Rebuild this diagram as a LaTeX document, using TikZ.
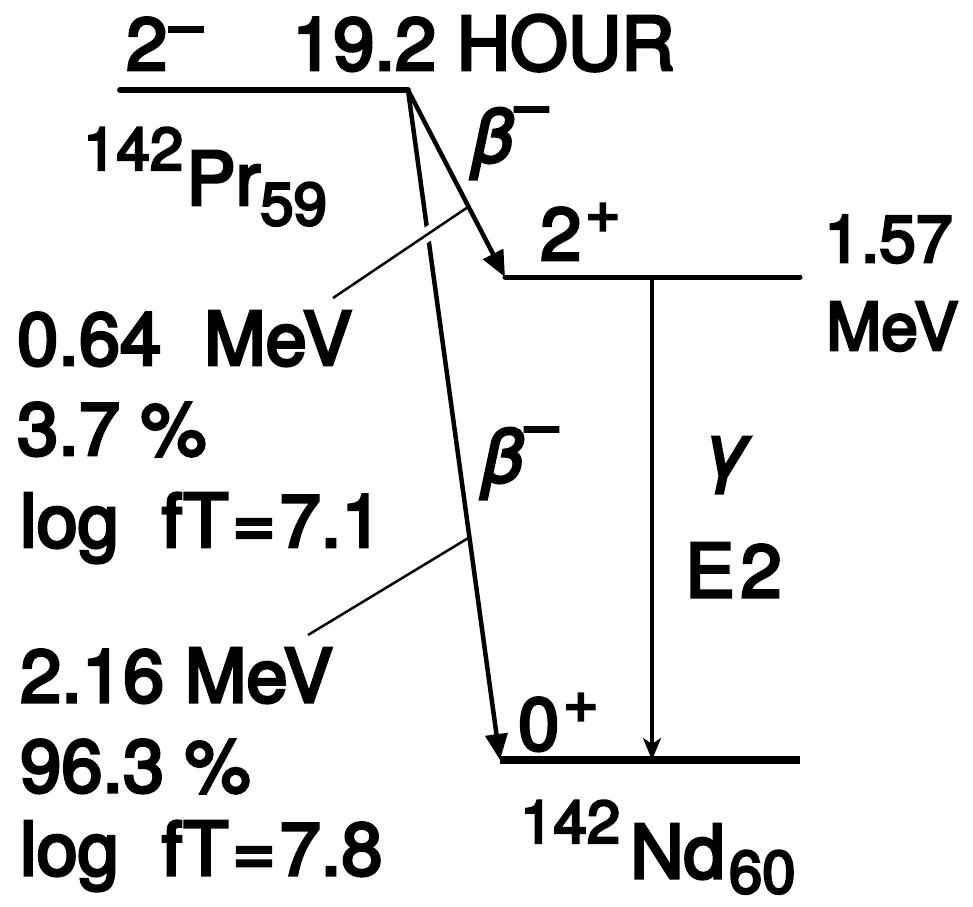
\documentclass[tikz,border=0pt]{standalone}
\usepackage{fontspec}
\setmainfont{TeX Gyre Heros}[FakeBold=4]
\usetikzlibrary{arrows.meta}
\newcommand{\bigf}{\fontsize{74}{80}\selectfont}
\newcommand{\rgtf}{\fontsize{66}{74}\selectfont}
\newcommand{\midf}{\fontsize{60}{66}\selectfont}
\begin{document}
\begin{tikzpicture}[x=1pt,y=-1pt,
  lbl/.style={anchor=base west,inner sep=0pt,font=\bigf},
  lvl/.style={line width=6pt},
  betaarrow/.style={line width=4.5pt,-{Triangle[length=26pt,width=22pt]}},
  gammaarrow/.style={line width=3.5pt,-{Stealth[length=22pt,width=18pt,inset=6pt]}},
  leader/.style={line width=2.5pt}]
\useasboundingbox (0,0) rectangle (973,906);

% level coordinates
\coordinate (PrL) at (120,90);
\coordinate (PrR) at (408,90);
\coordinate (MidL) at (505,277);
\coordinate (MidR) at (800,277);
\coordinate (GsL) at (500,760);
\coordinate (GsR) at (800,760);
\coordinate (GamTop) at (652,277);
\coordinate (GamBot) at (652,760);
\coordinate (LeadA) at (333,298);
\coordinate (LeadAend) at (468,207);
\coordinate (LeadB) at (308,635);
\coordinate (LeadBend) at (470,537);

% levels
\draw[lvl,line width=6pt,line cap=round] (PrL) -- (PrR);
\draw[lvl,line width=5pt,line cap=round] (MidL) -- (MidR);
\draw[lvl,line width=8pt] (GsL) -- (GsR);

% transitions
\draw[betaarrow] (PrR) -- (GsL);
\draw[betaarrow] (PrR) -- (MidL);
\draw[gammaarrow] (GamTop) -- (GamBot);

% leader lines (with a break in the long arrow)
\draw[white,line width=14pt,shorten <=100pt,shorten >=35pt] (LeadA) -- (LeadAend);
\draw[leader] (LeadA) -- (LeadAend);
\draw[leader] (LeadB) -- (LeadBend);

% labels
\node[lbl] (spinPr) at (126,70) {2\kern2pt\raisebox{24pt}[0pt][0pt]{\midf –}};
\node[lbl] (halflife) at (292,70) {19.2 HOUR};
\node[lbl] (prname) at (83,205) {\raisebox{35pt}{\midf 142}\kern3pt Pr\raisebox{-20pt}{\midf 59}};
\node[lbl] (betaA) at (472,162) {\itshape β\kern2pt\raisebox{36pt}[0pt][0pt]{\upshape\midf –}};
\node[lbl] (spinMid) at (540,260) {2\kern4pt\raisebox{28pt}{\midf +}};
\node[lbl] (eMid) at (824,262) {\rgtf 1.57};
\node[lbl] (eMidu) at (826,350) {\rgtf MeV};
\node[lbl] (qA) at (17,365) {0.64\hspace{0.3em} MeV};
\node[lbl] (bA) at (17,455) {3.7 \%};
\node[lbl] (fA) at (20,547) {log\hspace{0.3em} f\kern1ptT\kern4pt=\kern4pt7.1};
\node[lbl] (betaB) at (482,482) {\itshape β\kern2pt\raisebox{36pt}[0pt][0pt]{\upshape\midf –}};
\node[lbl] (gam) at (703,476) {\itshape γ};
\node[lbl] (mult) at (685,597) {E\kern6pt2};
\node[lbl] (qB) at (20,702) {2.16 MeV};
\node[lbl] (bB) at (20,792) {96.3 \%};
\node[lbl] (fB) at (20,875) {log\hspace{0.3em} f\kern1ptT\kern4pt=\kern4pt7.8};
\node[lbl] (spinGs) at (518,750) {0\kern4pt\raisebox{28pt}{\midf +}};
\node[lbl] (ndname) at (520,878) {\raisebox{35pt}{\midf 142}\kern10pt Nd\kern4pt\raisebox{-15pt}{\midf 60}};
\end{tikzpicture}
\end{document}
